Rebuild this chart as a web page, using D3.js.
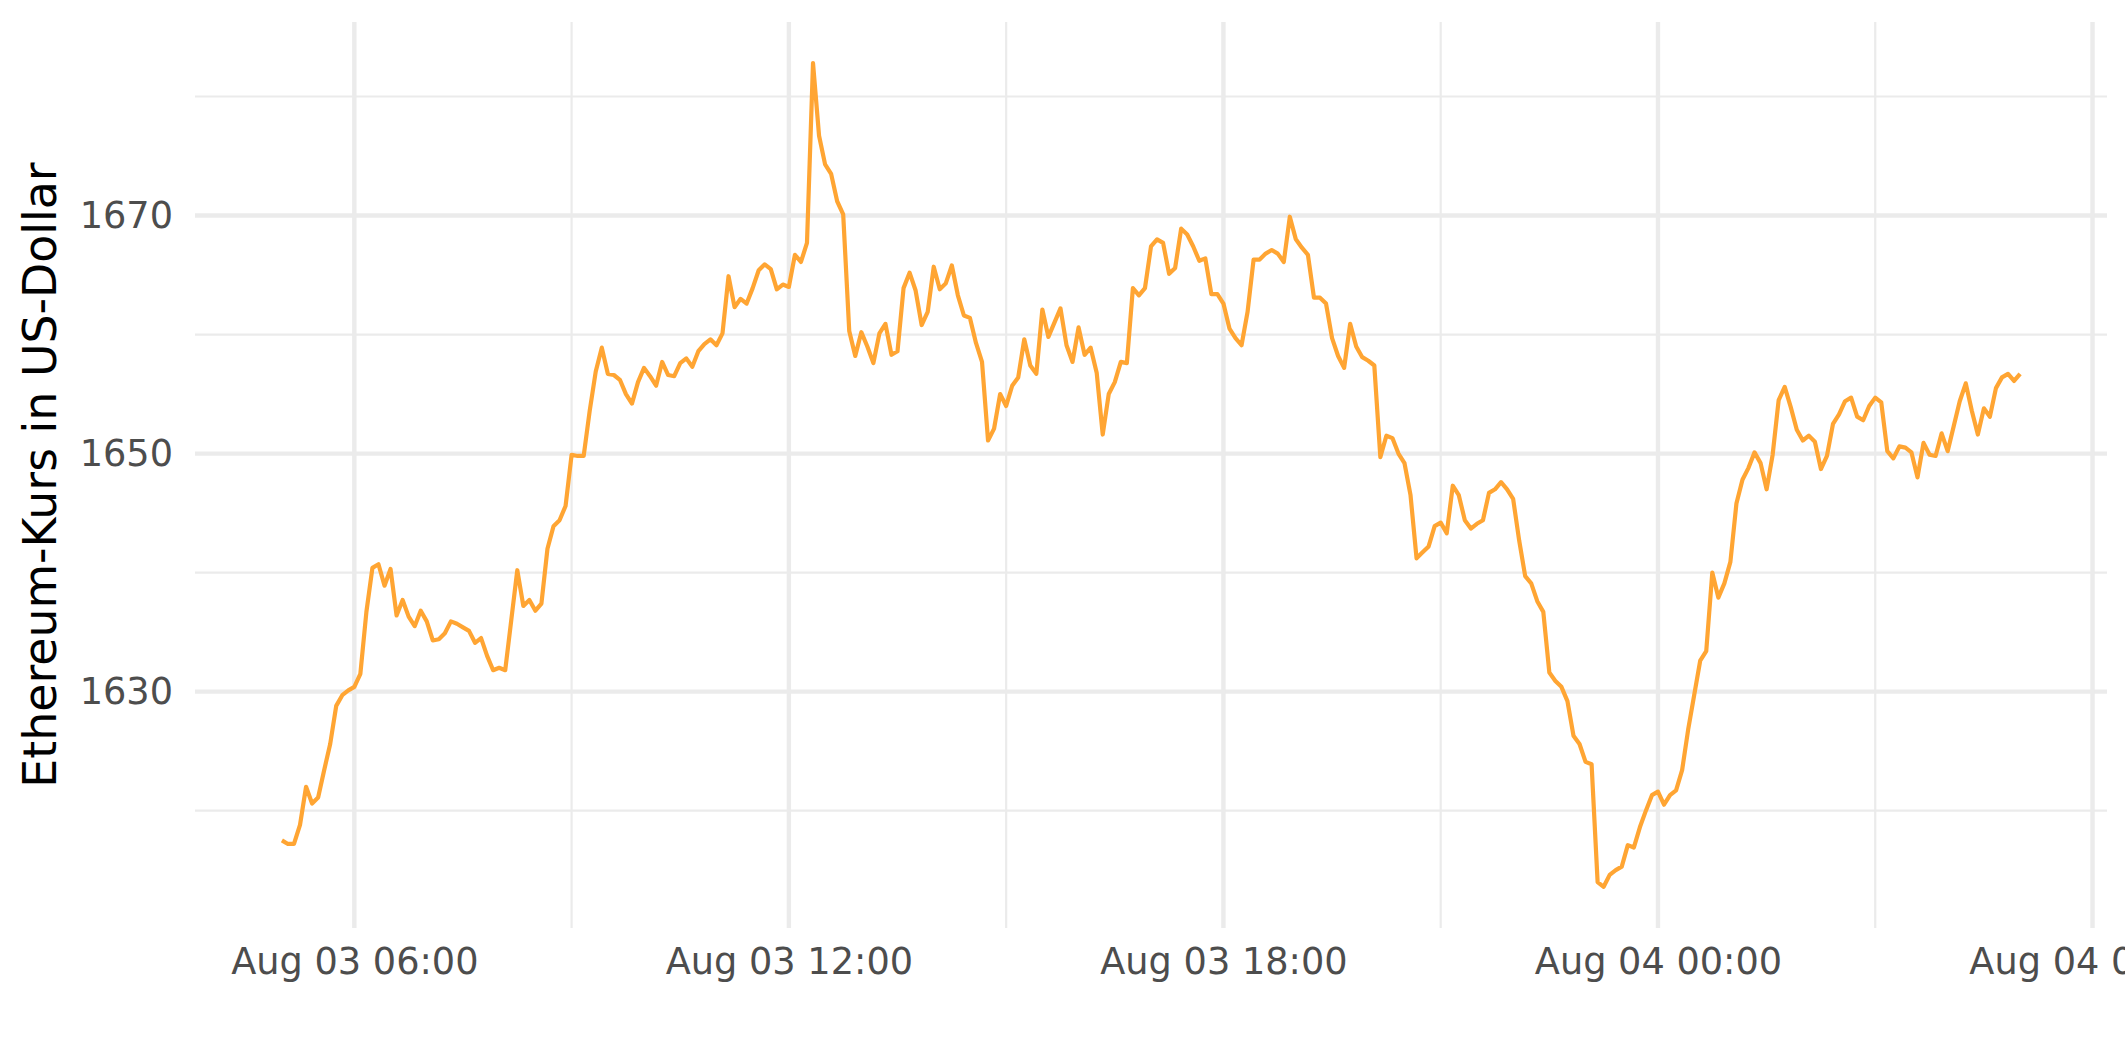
<!DOCTYPE html>
<html>
<head>
<meta charset="utf-8">
<script src="https://cdn.jsdelivr.net/npm/d3@7"></script>
<style>
  html, body { margin: 0; padding: 0; background: #ffffff; }
  svg { display: block; font-family: "DejaVu Sans", sans-serif; }
</style>
</head>
<body>
<svg id="chart" width="2125" height="1062"></svg>
<script>
// ---- data ----
const seriesStart = "2022-08-03 05:00";
const stepMinutes = 5;
const ethPrice = [
1617.5,1617.2,1617.2,1618.8,1622.0,1620.6,1621.1,1623.4,1625.6,1628.8,
1629.7,1630.1,1630.4,1631.5,1636.7,1640.4,1640.7,1638.9,1640.3,1636.4,
1637.7,1636.3,1635.5,1636.8,1635.9,1634.3,1634.4,1634.9,1635.9,1635.7,
1635.4,1635.1,1634.1,1634.5,1633.0,1631.8,1632.0,1631.8,1636.0,1640.2,
1637.2,1637.7,1636.8,1637.4,1642.0,1643.9,1644.4,1645.6,1649.9,1649.8,
1649.8,1653.6,1656.9,1658.9,1656.7,1656.6,1656.2,1655.0,1654.2,1656.0,
1657.2,1656.5,1655.7,1657.7,1656.6,1656.5,1657.6,1658.0,1657.3,1658.6,
1659.2,1659.6,1659.1,1660.1,1664.9,1662.3,1663.0,1662.6,1663.9,1665.4,
1665.9,1665.5,1663.8,1664.2,1664.0,1666.7,1666.1,1667.7,1682.8,1676.7,
1674.3,1673.5,1671.2,1670.1,1660.3,1658.2,1660.2,1659.0,1657.6,1660.1,
1660.9,1658.3,1658.6,1663.9,1665.2,1663.7,1660.8,1661.9,1665.7,1663.8,
1664.3,1665.8,1663.3,1661.6,1661.4,1659.3,1657.7,1651.1,1652.1,1655.0,
1654.0,1655.7,1656.4,1659.6,1657.4,1656.7,1662.1,1659.8,1661.0,1662.2,
1659.1,1657.7,1660.6,1658.3,1658.9,1656.8,1651.6,1655.0,1656.0,1657.7,
1657.6,1663.9,1663.3,1663.9,1667.4,1668.0,1667.7,1665.1,1665.6,1668.9,
1668.4,1667.4,1666.2,1666.4,1663.4,1663.4,1662.6,1660.5,1659.7,1659.1,
1661.9,1666.3,1666.3,1666.8,1667.1,1666.8,1666.1,1669.9,1668.0,1667.3,
1666.7,1663.1,1663.1,1662.6,1659.7,1658.2,1657.2,1660.9,1659.0,1658.1,
1657.8,1657.4,1649.7,1651.5,1651.3,1650.0,1649.2,1646.5,1641.2,1641.7,
1642.2,1643.9,1644.2,1643.3,1647.3,1646.5,1644.4,1643.7,1644.1,1644.4,
1646.7,1647.0,1647.6,1647.0,1646.2,1642.7,1639.7,1639.1,1637.6,1636.7,
1631.6,1630.9,1630.4,1629.2,1626.3,1625.6,1624.1,1623.9,1614.0,1613.6,
1614.6,1615.0,1615.3,1617.1,1616.9,1618.6,1620.0,1621.3,1621.6,1620.5,
1621.3,1621.7,1623.4,1626.8,1629.7,1632.6,1633.4,1640.0,1637.9,1639.1,
1640.9,1645.8,1647.8,1648.8,1650.1,1649.2,1647.0,1649.9,1654.5,1655.6,
1653.9,1652.0,1651.1,1651.5,1651.0,1648.7,1649.8,1652.5,1653.3,1654.4,
1654.7,1653.1,1652.8,1654.0,1654.7,1654.3,1650.2,1649.6,1650.6,1650.5,
1650.1,1648.0,1650.9,1649.9,1649.8,1651.7,1650.2,1652.3,1654.4,1655.9,
1653.6,1651.6,1653.8,1653.1,1655.5,1656.4,1656.7,1656.1,1656.7
];
const yMajorTicks = [1630, 1650, 1670];
const yMinorTicks = [1620, 1640, 1660, 1680];
const xMajorHours = 6;
const xMinorHours = 3;
const yTitle = "Ethereum-Kurs in US-Dollar";
const lineColor = "#FFA533";

// ---- build ----
const parse = d3.timeParse("%Y-%m-%d %H:%M");
const t0 = parse(seriesStart);
const data = ethPrice.map((v, i) => ({ t: d3.timeMinute.offset(t0, i * stepMinutes), v }));

const svg = d3.select("#chart");
const panel = { left: 195, right: 2107, top: 22, bottom: 928 };

const tExt = d3.extent(data, d => d.t);
const tPad = (tExt[1] - tExt[0]) * 0.05;
const x = d3.scaleTime()
  .domain([new Date(+tExt[0] - tPad), new Date(+tExt[1] + tPad)])
  .range([panel.left, panel.right]);

const vExt = d3.extent(data, d => d.v);
const vPad = (vExt[1] - vExt[0]) * 0.05;
const y = d3.scaleLinear()
  .domain([vExt[0] - vPad, vExt[1] + vPad])
  .range([panel.bottom, panel.top]);

const majorX = d3.timeHour.every(xMajorHours).range(x.domain()[0], x.domain()[1]);
const minorX = d3.timeHour.every(xMinorHours).range(x.domain()[0], x.domain()[1])
  .filter(d => d.getHours() % xMajorHours !== 0);

const grid = svg.append("g");
grid.selectAll(".ymin").data(yMinorTicks).join("line")
  .attr("x1", panel.left).attr("x2", panel.right)
  .attr("y1", d => y(d)).attr("y2", d => y(d))
  .attr("stroke", "#EBEBEB").attr("stroke-width", 2.2);
grid.selectAll(".xmin").data(minorX).join("line")
  .attr("x1", d => x(d)).attr("x2", d => x(d))
  .attr("y1", panel.top).attr("y2", panel.bottom)
  .attr("stroke", "#EBEBEB").attr("stroke-width", 2.2);
grid.selectAll(".ymaj").data(yMajorTicks).join("line")
  .attr("x1", panel.left).attr("x2", panel.right)
  .attr("y1", d => y(d)).attr("y2", d => y(d))
  .attr("stroke", "#EBEBEB").attr("stroke-width", 4.4);
grid.selectAll(".xmaj").data(majorX).join("line")
  .attr("x1", d => x(d)).attr("x2", d => x(d))
  .attr("y1", panel.top).attr("y2", panel.bottom)
  .attr("stroke", "#EBEBEB").attr("stroke-width", 4.4);

const line = d3.line().x(d => x(d.t)).y(d => y(d.v));
svg.append("path").datum(data)
  .attr("d", line)
  .attr("fill", "none")
  .attr("stroke", lineColor)
  .attr("stroke-width", 4.2)
  .attr("stroke-linejoin", "round")
  .attr("stroke-linecap", "butt");

const yAxis = d3.axisLeft(y).tickValues(yMajorTicks).tickSize(0).tickPadding(0).tickFormat(d3.format("d"));
const gy = svg.append("g").attr("transform", `translate(${panel.left - 22},0)`).call(yAxis);
gy.select(".domain").remove();
gy.selectAll("text").attr("font-size", 36.7).attr("fill", "#4D4D4D")
  .attr("font-family", "DejaVu Sans, sans-serif");

const xAxis = d3.axisBottom(x).tickValues(majorX).tickSize(0).tickPadding(0)
  .tickFormat(d3.timeFormat("%b %d %H:%M"));
const gx = svg.append("g").attr("transform", `translate(0,${panel.bottom + 20})`).call(xAxis);
gx.select(".domain").remove();
gx.selectAll("text").attr("font-size", 36.7).attr("fill", "#4D4D4D")
  .attr("font-family", "DejaVu Sans, sans-serif");

svg.append("text")
  .attr("transform", `translate(56,${(panel.top + panel.bottom) / 2}) rotate(-90)`)
  .attr("text-anchor", "middle")
  .attr("font-size", 45.8)
  .attr("fill", "#000000")
  .text(yTitle);
</script>
</body>
</html>
